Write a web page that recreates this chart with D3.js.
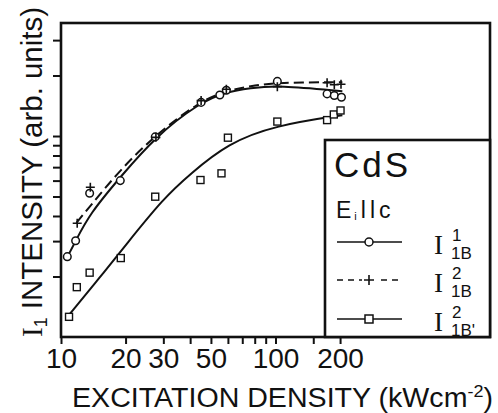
<!DOCTYPE html>
<html>
<head>
<meta charset="utf-8">
<script src="https://cdn.jsdelivr.net/npm/d3@7"></script>
<style>
  body { margin: 0; background: #fff; }
  svg text { font-family: "Liberation Sans", Arial, sans-serif; fill: #111; }
</style>
</head>
<body>
<div class="chart"></div>
<script>
// axis ticks
var xTickVals = [10, 20, 30, 40, 50, 60, 70, 80, 90, 100, 150, 200];
var xLabelVals = [10, 20, 30, 50, 100, 200];
var yTickVals = [2, 3, 4, 5, 6, 7, 8, 9, 10, 20, 30];

// I1B^1 (circles)
var circleX = [10.7, 11.7, 13.6, 18.9, 27.5, 45, 55, 59, 102, 174, 188, 203];
var circleY = [2.51, 3.01, 5.19, 6.0, 9.9, 14.7, 16.0, 16.9, 18.7, 16.2, 15.9, 15.6];
// I1B^2 (crosses)
var crossX = [11.9, 13.7, 27.7, 45, 59, 102, 174, 188, 202];
var crossY = [3.68, 5.56, 9.85, 15.0, 17.1, 17.6, 18.4, 18.0, 18.1];
// I1B'^2 (squares)
var squareX = [10.9, 11.85, 13.6, 19, 27.5, 44.7, 56, 60, 102, 174, 187, 201];
var squareY = [1.26, 1.77, 2.09, 2.47, 4.99, 6.04, 6.52, 9.81, 11.8, 12.0, 12.8, 13.4];

// hand drawn fit curves
var fitCircleX = [10.7, 11.7, 13.6, 18.9, 27.5, 44, 59, 76, 103, 205];
var fitCircleY = [2.5, 3.0, 4.1, 6.25, 9.9, 14.6, 16.6, 17.3, 17.9, 16.7];
var fitCrossX = [11.8, 13.6, 18.9, 27.5, 44, 59, 76, 103, 205];
var fitCrossY = [3.7, 4.45, 6.8, 10.1, 14.8, 16.8, 17.7, 18.5, 18.5];
var fitSquareX = [10.9, 15, 20, 30, 40, 60, 100, 205];
var fitSquareY = [1.29, 1.95, 2.86, 4.89, 6.47, 9.2, 11.3, 12.7];

var width = 498, height = 413;
var margin = {top: 23, right: 8, bottom: 76, left: 61};

var svg = d3.select(".chart").append("svg")
    .attr("width", width)
    .attr("height", height);

var x = d3.scaleLog()
    .domain([10, 1000])
    .range([margin.left, width - margin.right]);

var y = d3.scaleLog()
    .domain([1, 36.5])
    .range([height - margin.bottom, margin.top]);

var ink = "#111";

function zip(xs, ys) {
  return xs.map(function(d, i) { return [d, ys[i]]; });
}

// axes
var xAxis = d3.axisBottom(x)
    .tickValues(xTickVals)
    .tickSize(7)
    .tickPadding(4)
    .tickFormat(function(d) { return xLabelVals.indexOf(d) >= 0 ? d : ""; });

var gx = svg.append("g")
    .attr("transform", "translate(0," + y.range()[0] + ")")
    .call(xAxis);
gx.select(".domain").remove();
gx.selectAll("line").attr("stroke", ink).attr("stroke-width", 2);
gx.selectAll("text").attr("font-size", 28).attr("fill", ink);

var yAxis = d3.axisLeft(y)
    .tickValues(yTickVals)
    .tickSize(8)
    .tickFormat("");

var gy = svg.append("g")
    .attr("transform", "translate(" + x.range()[0] + ",0)")
    .call(yAxis);
gy.select(".domain").remove();
gy.selectAll("line").attr("stroke", ink).attr("stroke-width", 2);

// fit lines
var line = d3.line()
    .x(function(d) { return x(d[0]); })
    .y(function(d) { return y(d[1]); })
    .curve(d3.curveBasis);

svg.append("path")
    .datum(zip(fitSquareX, fitSquareY))
    .attr("d", line)
    .attr("fill", "none").attr("stroke", ink).attr("stroke-width", 2);

svg.append("path")
    .datum(zip(fitCircleX, fitCircleY))
    .attr("d", line)
    .attr("fill", "none").attr("stroke", ink).attr("stroke-width", 2);

svg.append("path")
    .datum(zip(fitCrossX, fitCrossY))
    .attr("d", line)
    .attr("fill", "none").attr("stroke", ink).attr("stroke-width", 2)
    .attr("stroke-dasharray", "10,5");

// markers
function drawCircles(g, pts) {
  g.selectAll(null).data(pts).enter().append("circle")
      .attr("cx", function(d) { return x(d[0]); })
      .attr("cy", function(d) { return y(d[1]); })
      .attr("r", 3.8)
      .attr("fill", "#fff").attr("stroke", ink).attr("stroke-width", 1.5);
}
function drawSquares(g, pts) {
  g.selectAll(null).data(pts).enter().append("rect")
      .attr("x", function(d) { return x(d[0]) - 3.5; })
      .attr("y", function(d) { return y(d[1]) - 3.5; })
      .attr("width", 7).attr("height", 7)
      .attr("fill", "#fff").attr("stroke", ink).attr("stroke-width", 1.4);
}
function drawCrosses(g, pts) {
  g.selectAll(null).data(pts).enter().append("path")
      .attr("d", function(d) {
        var cx = x(d[0]), cy = y(d[1]);
        return "M" + (cx - 4.5) + "," + cy + "H" + (cx + 4.5) +
               "M" + cx + "," + (cy - 4.5) + "V" + (cy + 4.5);
      })
      .attr("stroke", ink).attr("stroke-width", 1.6);
}

var marks = svg.append("g");
drawSquares(marks, zip(squareX, squareY));
drawCircles(marks, zip(circleX, circleY));
drawCrosses(marks, zip(crossX, crossY));

// frame
svg.append("rect")
    .attr("x", x.range()[0]).attr("y", y.range()[1])
    .attr("width", x.range()[1] - x.range()[0])
    .attr("height", y.range()[0] - y.range()[1])
    .attr("fill", "none").attr("stroke", ink).attr("stroke-width", 2.6);

// legend box
var lg = svg.append("g");
lg.append("rect")
    .attr("x", 325).attr("y", 140)
    .attr("width", x.range()[1] - 325).attr("height", y.range()[0] - 140)
    .attr("fill", "#fff").attr("stroke", ink).attr("stroke-width", 2.6);

lg.append("text").attr("x", 334).attr("y", 177)
    .attr("font-size", 35).attr("letter-spacing", 3).text("CdS");

var ep = lg.append("text").attr("x", 336).attr("y", 218).attr("font-size", 23);
ep.append("tspan").text("E");
ep.append("tspan").attr("font-size", 11).attr("dx", 3).attr("dy", 2).text("i");
ep.append("tspan").attr("dx", 4).attr("dy", -2).attr("letter-spacing", 4).text("llc");

var rows = [
  {y: 242, dash: null, mark: "circle", sup: "1", sub: "1B"},
  {y: 280, dash: "6,5", mark: "cross", sup: "2", sub: "1B"},
  {y: 319, dash: null, mark: "square", sup: "2", sub: "1B'"}
];
rows.forEach(function(r) {
  lg.append("line")
      .attr("x1", 337).attr("x2", 402).attr("y1", r.y).attr("y2", r.y)
      .attr("stroke", ink).attr("stroke-width", 1.6)
      .attr("stroke-dasharray", r.dash);
  if (r.mark == "circle") {
    lg.append("circle").attr("cx", 369).attr("cy", r.y).attr("r", 4)
        .attr("fill", "#fff").attr("stroke", ink).attr("stroke-width", 1.5);
  } else if (r.mark == "square") {
    lg.append("rect").attr("x", 365).attr("y", r.y - 4).attr("width", 8).attr("height", 8)
        .attr("fill", "#fff").attr("stroke", ink).attr("stroke-width", 1.5);
  } else {
    lg.append("rect").attr("x", 362).attr("y", r.y - 5).attr("width", 14).attr("height", 10).attr("fill", "#fff");
    lg.append("path")
        .attr("d", "M364," + r.y + "H374M369," + (r.y - 5) + "V" + (r.y + 5))
        .attr("stroke", ink).attr("stroke-width", 1.6);
  }
  var t = lg.append("text").attr("x", 434).attr("y", r.y + 12);
  t.append("tspan").attr("font-family", "'Liberation Serif', serif").attr("font-size", 27).text("I");
  t.append("tspan").attr("x", 452).attr("dy", -13).attr("font-size", 17).text(r.sup);
  t.append("tspan").attr("x", 451).attr("dy", 18).attr("font-size", 17).text(r.sub);
});

// axis titles
var xt = svg.append("text")
    .attr("x", 72).attr("y", 407)
    .attr("font-size", 27)
    .attr("textLength", 421).attr("lengthAdjust", "spacingAndGlyphs");
xt.append("tspan").text("EXCITATION DENSITY (kWcm");
xt.append("tspan").attr("dy", -10).attr("font-size", 17).text("-2");
xt.append("tspan").attr("dy", 10).text(")");

var yt = svg.append("text")
    .attr("transform", "translate(42,337) rotate(-90)")
    .attr("font-size", 30)
    .attr("textLength", 330).attr("lengthAdjust", "spacingAndGlyphs");
yt.append("tspan").attr("font-family", "'Liberation Serif', serif").text("I");
yt.append("tspan").attr("font-size", 18).attr("dy", 5).text("1");
yt.append("tspan").attr("dy", -5).text(" INTENSITY (arb. units)");
</script>
</body>
</html>
